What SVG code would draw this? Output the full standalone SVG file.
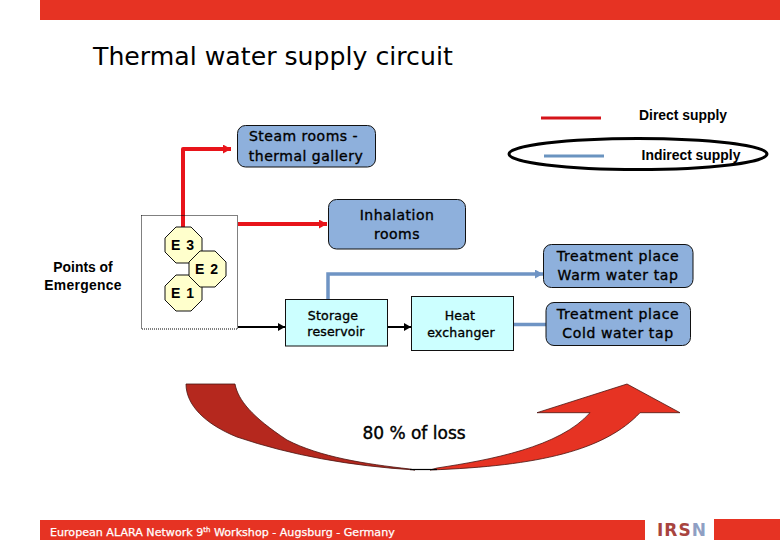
<svg xmlns="http://www.w3.org/2000/svg" width="780" height="540" viewBox="0 0 780 540">
<style>
text{font-family:"DejaVu Sans","Liberation Sans",sans-serif;fill:#000;text-anchor:middle}
.t{font-size:14px;letter-spacing:.6px;stroke:#000;stroke-width:.35px}
.s{font-size:12.5px;letter-spacing:.2px;stroke:#000;stroke-width:.35px}
.a{font-family:"Liberation Sans",sans-serif;font-weight:700;font-size:13.900px}
.g{fill:#8eb0dc;stroke:#111;stroke-width:1}
.c{fill:#ccffff;stroke:#111;stroke-width:1}
.o{fill:#ffffcc;stroke:#111;stroke-width:1}
.e{font-family:"Liberation Sans",sans-serif;font-weight:700;font-size:14px;letter-spacing:1px}
.red{fill:none;stroke:#e8141a;stroke-width:4}
.blue{fill:none;stroke:#6f94c4;stroke-width:3.500}
.blk{fill:none;stroke:#000;stroke-width:2}
</style>
<defs>
<marker id="mr" markerUnits="userSpaceOnUse" markerWidth="9" markerHeight="9" refX="8" refY="4.500" orient="auto"><path d="M0 0L8 4.500L0 9Z" fill="#e8141a"/></marker>
<marker id="mb" markerUnits="userSpaceOnUse" markerWidth="9" markerHeight="9" refX="8" refY="4.500" orient="auto"><path d="M0 0L8 4.500L0 9Z" fill="#6f94c4"/></marker>
<marker id="mk" markerUnits="userSpaceOnUse" markerWidth="8" markerHeight="8" refX="7" refY="4" orient="auto"><path d="M0 0L7 4L0 8Z" fill="#000"/></marker>
</defs>
<rect x="40" y="0" width="740" height="20" fill="#e63323"/>
<rect x="40" y="520" width="605" height="20" fill="#e63323"/>
<rect x="714" y="519" width="66" height="21" fill="#e63323"/>
<text x="93" y="64.500" style="text-anchor:start;font-size:25.200px">Thermal water supply circuit</text>
<text x="50" y="536" style="text-anchor:start;font-size:11.100px;fill:#fff;stroke:#fff;stroke-width:.25px">European ALARA Network 9<tspan font-size="7" dy="-4">th</tspan><tspan dy="4"> Workshop - Augsburg - Germany</tspan></text>
<text x="682" y="536" style="font-size:17px;font-weight:700;fill:#a8443f;letter-spacing:1px">IRS<tspan fill="#8f9fc4">N</tspan></text>

<g id="connectors">
<path class="red" d="M183 228V149H231" marker-end="url(#mr)" style="stroke-linejoin:round"/>
<path class="red" d="M238 224H327" marker-end="url(#mr)"/>
<path class="blue" d="M328 299V274H543" marker-end="url(#mb)"/>
<path class="blk" d="M238 327H285" marker-end="url(#mk)"/>
<path class="blk" d="M387 327H411" marker-end="url(#mk)"/>
<path class="blue" d="M513 324.500H546"/>
</g>

<g id="legend">
<path d="M541 118H601" stroke="#d5141a" stroke-width="3" fill="none"/>
<path d="M544 156H604" stroke="#6a94c0" stroke-width="3" fill="none"/>
<ellipse cx="638" cy="154" rx="129" ry="15.500" fill="none" stroke="#000" stroke-width="3"/>
<text class="a" x="683" y="120">Direct supply</text>
<text class="a" x="691" y="160">Indirect supply</text>
</g>

<g id="emergence">
<rect x="141.500" y="215.500" width="96" height="113.500" fill="none" stroke="#000" stroke-dasharray="1 1"/>
<text class="a" x="83" y="272">Points of</text>
<text class="a" x="83" y="290" style="letter-spacing:.3px">Emergence</text>
</g>
<g id="e3"><path class="o" d="M176 227H191L202 238V252L191 263H176L165 252V238Z"/><text class="e" x="183" y="250">E 3</text></g>
<g id="e1"><path class="o" d="M176 275H191L202 286V300L191 311H176L165 300V286Z"/><text class="e" x="183" y="298">E 1</text></g>
<g id="e2"><path class="o" d="M200 251H215L226 262V276L215 287H200L189 276V262Z"/><text class="e" x="207" y="274">E 2</text></g>

<g id="steam"><rect class="g" x="237.500" y="125.500" width="138" height="41.500" rx="8"/><text class="t" x="303.500" y="141" style="letter-spacing:.5px">Steam rooms -</text><text class="t" x="306" y="161" style="letter-spacing:.5px">thermal gallery</text></g>
<g id="inhalation"><rect class="g" x="328.500" y="199.500" width="137" height="49.500" rx="8"/><text class="t" x="397" y="220" style="letter-spacing:.5px">Inhalation</text><text class="t" x="397" y="239" style="letter-spacing:.5px">rooms</text></g>
<g id="warm"><rect class="g" x="543.500" y="244.500" width="149.500" height="43" rx="8"/><text class="t" x="618" y="261">Treatment place</text><text class="t" x="618" y="280">Warm water tap</text></g>
<g id="cold"><rect class="g" x="546" y="302.500" width="144.500" height="43" rx="8"/><text class="t" x="618" y="319">Treatment place</text><text class="t" x="618" y="338">Cold water tap</text></g>
<g id="storage"><rect class="c" x="285.500" y="299.500" width="102" height="46.500"/><text class="s" x="333" y="320">Storage</text><text class="s" x="336" y="336">reservoir</text></g>
<g id="heat"><rect class="c" x="411.500" y="296.500" width="102" height="54"/><text class="s" x="460" y="320">Heat</text><text class="s" x="461" y="337">exchanger</text></g>

<g id="loss">
<path d="M186 384H235C238 400 252 417 287 440C320 457 365 464 410 469L415 470C350 466 290 455 237 437C205 424 186 405 186 384Z" fill="#b5281e" stroke="#4a1410" stroke-width=".8"/>
<path d="M437 468C490 460 560 447 590 412.700H537L627 384L680 412.700H640C605 450 540 466 430 470Z" fill="#e63323" stroke="#4a1410" stroke-width=".8"/>
<path d="M410 469.500L437 469.500" stroke="#000" stroke-width="1.200" fill="none"/>
<text x="414" y="439" style="font-size:17px;stroke:#000;stroke-width:.4px">80 % of loss</text>
</g>
</svg>
